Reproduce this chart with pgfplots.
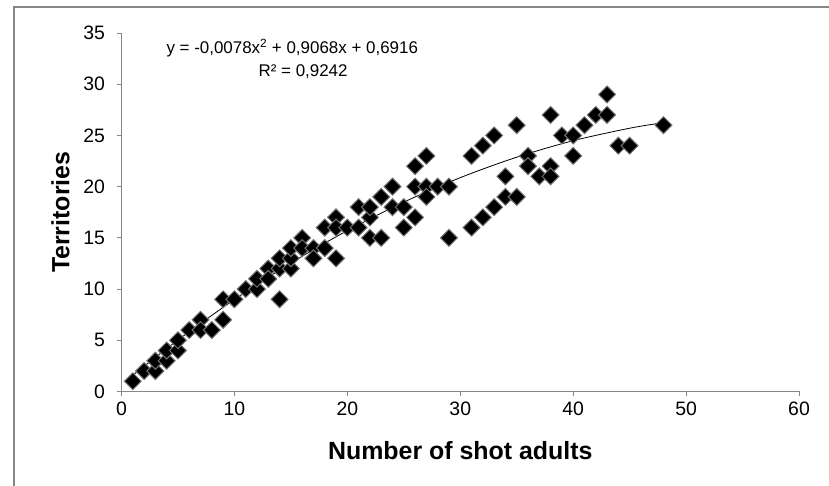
\documentclass[border=0pt]{standalone}
\usepackage{fontspec}
\setmainfont{Liberation Sans}
\usepackage{pgfplots}
\pgfplotsset{compat=1.18}
\definecolor{axgray}{RGB}{134,134,134}
\begin{document}
\begin{tikzpicture}[x=1bp,y=1bp]
\path[use as bounding box] (0,0) rectangle (829,486);
\draw[axgray, line width=2bp] (14,0) -- (14,479) -- (829,479);
\begin{axis}[
  at={(121.5bp,94.5bp)}, anchor=south west,
  scale only axis, width=677.5bp, height=358.5bp,
  xmin=0, xmax=60, ymin=0, ymax=35,
  xtick={0,10,...,60}, ytick={0,5,...,35},
  axis x line*=bottom, axis y line*=left,
  axis line style={axgray, line width=0.8bp},
  tick style={axgray, line width=0.8bp},
  tick align=outside, major tick length=5bp,
  /pgf/number format/assume math mode=true,
  tick label style={font=\fontsize{19.5}{19.5}\selectfont, black},
  xticklabel style={yshift=-2bp},
  yticklabel style={xshift=-8bp},
  xlabel={Number of shot adults},
  ylabel={Territories},
  label style={font=\fontsize{25}{25}\selectfont\bfseries},
  xlabel style={at={(axis description cs:0.5,-0.166)}, anchor=center},
  ylabel style={at={(axis description cs:-0.09,0.5)}, anchor=center},
  clip=false,
]
\addplot[only marks, mark=square*, mark size=6pt,
  mark options={rotate=45, fill=black, draw=black!55, line width=1bp}]
  coordinates {
(1,1)(2,2)(3,2)(3,3)(4,3)(4,4)(5,4)(5,5)(6,6)(7,7)(7,6)(8,6)(9,7)(9,9)(10,9)
(11,10)(12,10)(12,11)(13,12)(13,11)(14,9)(14,12)(14,13)(15,12)(15,13)(15,14)
(16,15)(16,14)(17,14)(17,13)(18,14)(19,13)(18,16)(19,17)(19,16)(20,16)
(21,18)(21,16)(22,17)(22,18)(22,15)(23,15)(23,19)(24,20)(24,18)(25,18)(25,16)
(26,17)(26,20)(26,22)(27,20)(27,19)(27,23)(28,20)(29,20)(29,15)
(31,23)(32,24)(33,25)(35,26)(31,16)(32,17)(33,18)(34,19)(35,19)(34,21)
(36,23)(36,22)(37,21)(38,22)(38,21)(38,27)(39,25)(40,25)(40,23)(41,26)
(42,27)(43,27)(43,29)(44,24)(45,24)(48,26)
};
\addplot[black, line width=0.8bp, smooth, no marks] coordinates {
(1,1.591)(5,5.031)(10,8.980)(15,12.539)(20,15.708)(25,18.487)(30,20.876)
(35,22.875)(40,24.484)(45,25.703)(48,26.247)
};
\node[font=\fontsize{17}{17}\selectfont, anchor=center] at (axis description cs:0.252,0.958) {y = -0,0078x\textsuperscript{2} + 0,9068x + 0,6916};
\node[font=\fontsize{17}{17}\selectfont, anchor=center] at (axis description cs:0.268,0.893) {R² = 0,9242};
\end{axis}
\end{tikzpicture}
\end{document}
